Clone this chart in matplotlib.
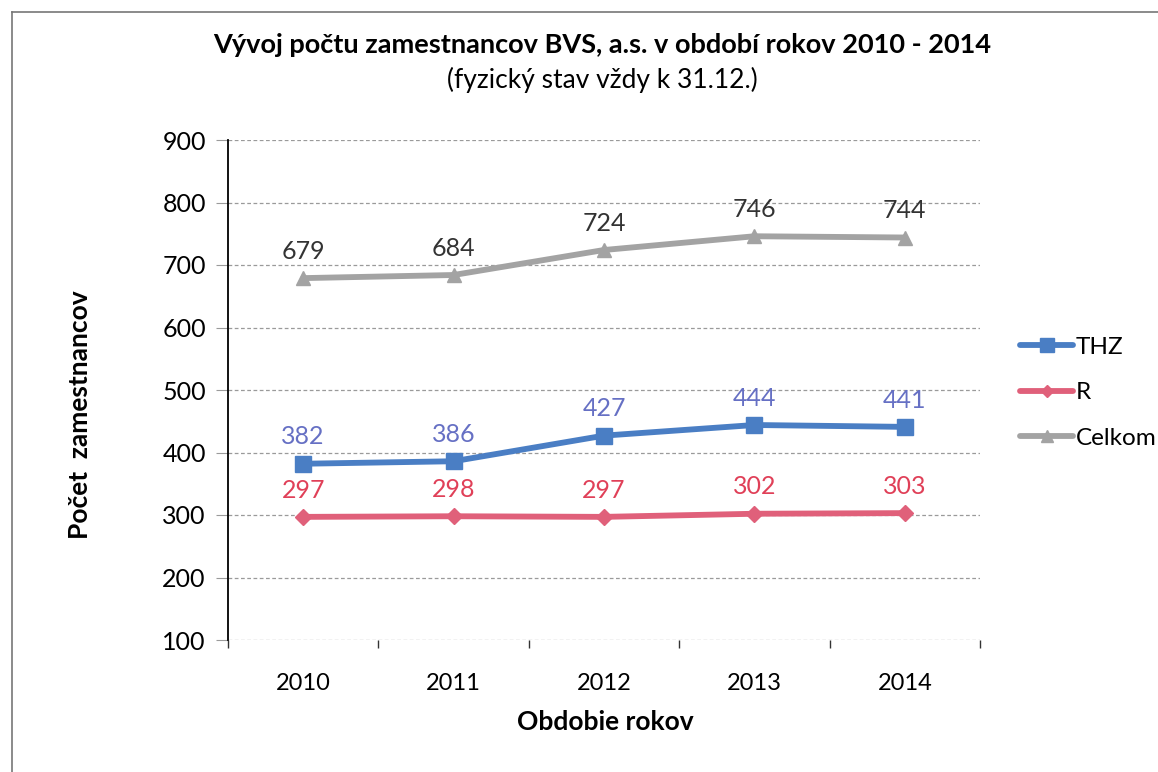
"""
Vyvoj poctu zamestnancov BVS, a.s. v obdobi rokov 2010 - 2014.
"""

import matplotlib.pyplot as plt
from matplotlib.lines import Line2D
from matplotlib.ticker import FixedLocator

YEARS = ["2010", "2011", "2012", "2013", "2014"]
THZ = [382, 386, 427, 444, 441]
R = [297, 298, 297, 302, 303]
CELKOM = [679, 684, 724, 746, 744]

FONT = "Lato"
THZ_COLOR = "#4a7ec4"
THZ_TEXT = "#6670c4"
R_COLOR = "#e0607a"
R_TEXT = "#e04058"
CELKOM_COLOR = "#a3a3a3"
CELKOM_TEXT = "#333333"
GRID_COLOR = "#9a9a9a"


def main() -> None:
    plt.rcParams["font.family"] = [FONT, "DejaVu Sans"]
    fig = plt.figure(figsize=(11.58, 7.72), dpi=100)
    ax = fig.add_axes([228 / 1158, 1 - 640 / 772, (980 - 228) / 1158, 500 / 772])

    xs = list(range(len(YEARS)))
    series = [
        ("THZ", THZ, THZ_COLOR, THZ_TEXT, "s", 12),
        ("R", R, R_COLOR, R_TEXT, "D", 8),
        ("Celkom", CELKOM, CELKOM_COLOR, CELKOM_TEXT, "^", 10),
    ]
    handles = []
    for name, ys, color, tcolor, marker, ms in series:
        line, = ax.plot(xs, ys, color=color, lw=4.2, marker=marker, ms=ms,
                        label=name, solid_capstyle="round", zorder=3)
        handles.append(line)
        for x, y in zip(xs, ys):
            ax.annotate(str(y), (x, y), xytext=(0, 11), textcoords="offset points",
                        ha="center", va="bottom", fontsize=18, color=tcolor)

    ax.set_xlim(-0.5, len(YEARS) - 0.5)
    ax.set_ylim(100, 900)
    ax.set_yticks(range(100, 1000, 100))
    ax.set_xticks(xs)
    ax.set_xticklabels(YEARS)
    ax.xaxis.set_minor_locator(FixedLocator([i + 0.5 for i in range(-1, len(YEARS))]))
    ax.tick_params(axis="x", which="major", length=0, pad=24, labelsize=17)
    ax.tick_params(axis="x", which="minor", length=6, width=1, color="#333333")
    ax.tick_params(axis="y", length=9, width=0.8, color=GRID_COLOR, pad=7, labelsize=18)
    for side in ["top", "right", "bottom"]:
        ax.spines[side].set_visible(False)
    ax.spines["left"].set_linewidth(1.3)
    ax.grid(axis="y", color=GRID_COLOR, linestyle=(0, (3, 2)), linewidth=0.9)

    fig.text(0.52, 1 - 45 / 772, "Vývoj počtu zamestnancov BVS, a.s. v období rokov 2010 - 2014",
             ha="center", va="center", fontsize=19.5, fontweight="bold")
    fig.text(0.52, 1 - 80 / 772, "(fyzický stav vždy k 31.12.)",
             ha="center", va="center", fontsize=19)
    fig.text(80 / 1158, 1 - 415 / 772, "Počet  zamestnancov", rotation=90,
             ha="center", va="center", fontsize=19, fontweight="bold")
    fig.text(605 / 1158, 1 - 722 / 772, "Obdobie rokov",
             ha="center", va="center", fontsize=19, fontweight="bold")

    fig.legend(handles, [h.get_label() for h in handles], loc="upper left",
               bbox_to_anchor=(998 / 1158, 1 - 315 / 772), frameon=False,
               fontsize=17.5, handlelength=2.2, handletextpad=0.1, labelspacing=1.0,
               markerscale=0.8)

    # scan frame around the chart
    fig.add_artist(Line2D([12 / 1158, 1], [1 - 12 / 772] * 2, color="#777777", lw=1.2))
    fig.add_artist(Line2D([12 / 1158] * 2, [0, 1 - 12 / 772], color="#777777", lw=1.2))

    fig.savefig("out.png", dpi=100)


if __name__ == "__main__":
    main()
